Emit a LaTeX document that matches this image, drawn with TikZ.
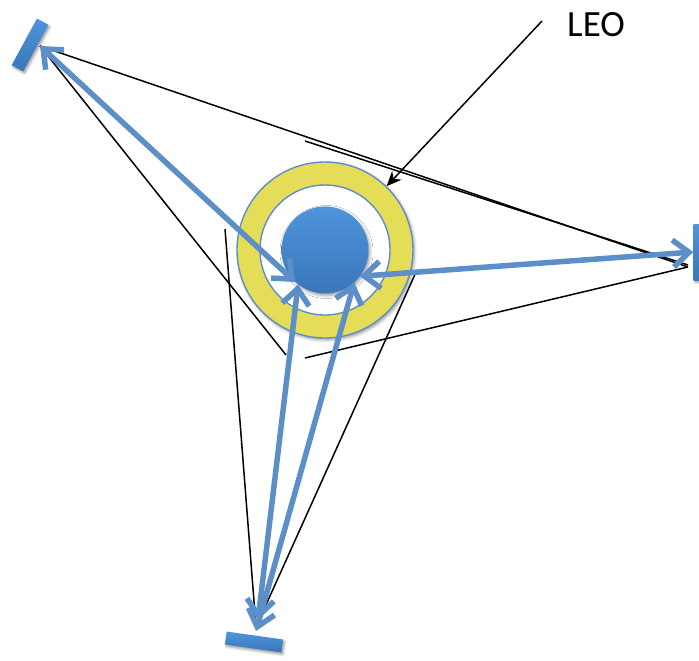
\documentclass[tikz,border=0pt]{standalone}
\usepackage{fontspec}
\setmainfont{Carlito}
\usetikzlibrary{arrows.meta, shadows.blur}

\definecolor{linkblue}{RGB}{92,142,200}
\definecolor{ringyellow}{RGB}{229,221,88}
\definecolor{ringblue}{RGB}{92,142,200}
\definecolor{bluetop}{RGB}{78,148,220}
\definecolor{bluebot}{RGB}{58,118,186}

\begin{document}
\begin{tikzpicture}[
    x=1pt, y=-1pt,
    mirror/.style={rectangle, top color=bluetop, bottom color=bluebot, draw=none,
                   minimum height=13pt, inner sep=0pt,
                   blur shadow={shadow xshift=1.5pt, shadow yshift=-2pt, shadow blur radius=2.5pt}},
    planet/.style={circle, top color=bluetop, bottom color=bluebot, draw=none,
                   minimum size=87pt, inner sep=0pt,
                   blur shadow={shadow xshift=1.5pt, shadow yshift=-2pt, shadow blur radius=3pt}},
    orbit/.style={circle, fill=ringyellow, draw=ringblue, line width=1.4pt,
                  minimum size=176pt, inner sep=0pt,
                  blur shadow={shadow xshift=1.5pt, shadow yshift=-2pt, shadow blur radius=3pt}},
    hole/.style={circle, fill=white, draw=ringblue, line width=1.4pt,
                 minimum size=130pt, inner sep=0pt},
    beam/.style={black, line width=1.5pt},
    link/.style={linkblue, line width=5.5pt, >={Straight Barb[length=16pt, width=27pt]}, <->},
    pointer/.style={black, line width=1.5pt, -{Stealth[length=15pt, width=13pt]}}
  ]
    \useasboundingbox (0,0) rectangle (699,661);

    % Focus points of the mirrors and open ends of the beams
    \coordinate (f-left) at (40,46);
    \coordinate (f-right) at (688,267);
    \coordinate (f-right-b) at (688,265);
    \coordinate (f-bottom) at (256,627);
    \coordinate (e-left) at (286,355);
    \coordinate (e-right-a) at (305,141);
    \coordinate (e-right-b) at (305,358);
    \coordinate (e-bottom-a) at (225,229);
    \coordinate (e-bottom-b) at (417,270);

    % Beams
    \draw[beam] (f-left) -- (f-right);
    \draw[beam] (f-left) -- (e-left);
    \draw[beam] (f-right-b) -- (e-right-a);
    \draw[beam] (f-right) -- (e-right-b);
    \draw[beam] (f-bottom) -- (e-bottom-a);
    \draw[beam] (f-bottom) -- (e-bottom-b);

    % Mirrors
    \node[mirror, minimum width=53pt, rotate=61.5] (m-left) at (30,45) {};
    \node[mirror, minimum width=56pt, rotate=90] (m-right) at (700,252) {};
    \node[mirror, minimum width=57pt, rotate=-8] (m-bottom) at (254,642) {};
    \coordinate (t-bottom-a) at (258,620);
    \coordinate (t-bottom-b) at (256,631);

    % Orbit ring and Earth
    \node[orbit] (ring) at (325,250) {};
    \node[hole] (ring-in) at (325,250) {};
    \node[planet] (earth) at (325,250) {};

    % Links to the mirrors
    \draw[link] (earth.227) -- (f-left);
    \draw[link] (earth.-37) -- (m-right.north);
    \draw[link] (earth.232) -- (t-bottom-a);
    \draw[link] (earth.-48) -- (t-bottom-b);

    % Label
    \node[font=\fontsize{37}{42}\selectfont, inner sep=0pt] (leo) at (596,25) {LEO};
    \coordinate (leo-tail) at (542,21);
    \draw[pointer] (leo-tail) -- (ring.46);

  \end{tikzpicture}
\end{document}
